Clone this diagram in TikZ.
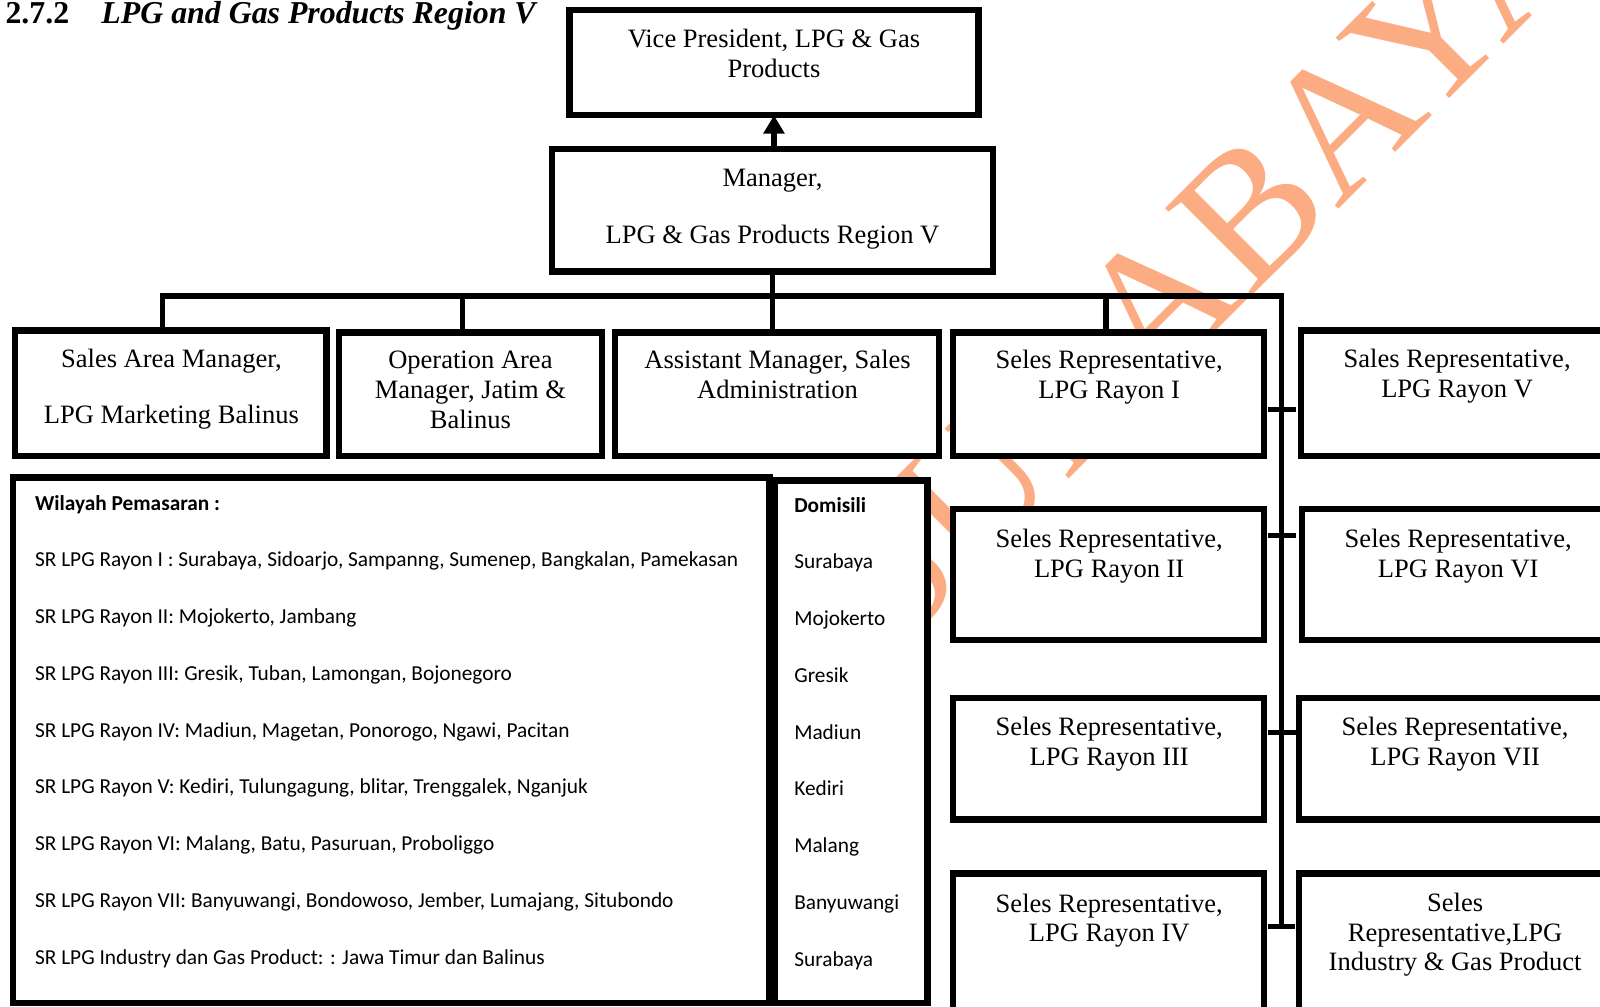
\documentclass[tikz,border=0pt]{standalone}
\usepackage{fontspec}
\setmainfont{Liberation Serif}
\newfontfamily\calibri{Carlito}
\usetikzlibrary{arrows.meta}
\definecolor{wm}{RGB}{252,172,130}
\tikzset{
  box/.style={draw=black, line width=3.1pt, fill=white, inner sep=0pt, outer sep=0pt, anchor=north west},
  conn/.style={draw=black, line width=2.6pt},
  lbl/.style={font=\fontsize{13}{14.6}\selectfont, align=center, inner sep=0pt, anchor=base},
  lst/.style={font=\calibri\fontsize{10.45}{12}\selectfont, inner sep=0pt, anchor=base west},
}
\begin{document}
\begin{tikzpicture}[x=0.5pt,y=-0.5pt]
\useasboundingbox (0,0) rectangle (1568,986);
\clip (0,0) rectangle (1568,986);

% watermark
\node[rotate=45, text=wm, font=\fontsize{92}{92}\selectfont, inner sep=0pt] (wmark) at (1179,253) {SURABAYA};

% title
\node[anchor=base west, inner sep=0pt, font=\fontsize{15.6}{18}\selectfont\bfseries] (num) at (5,23) {2.7.2};
\node[anchor=base west, inner sep=0pt, font=\fontsize{15.6}{18}\selectfont\bfseries\itshape] (ttl) at (99,23) {LPG and Gas Products Region V};

% boxes
\node[box, minimum width=200.5pt, minimum height=51.5pt] (vp) at (558,10) {};
\node[box, minimum width=216pt, minimum height=60pt] (mgr) at (541,146) {};
\node[box, minimum width=152.5pt, minimum height=61.5pt] (bA) at (15,324) {};
\node[box, minimum width=129pt, minimum height=60.5pt] (bB) at (332,326) {};
\node[box, minimum width=158.5pt, minimum height=60.5pt] (bC) at (603,326) {};
\node[box, minimum width=152.5pt, minimum height=60.5pt] (bD) at (934,326) {};
\node[box, minimum width=157.5pt, minimum height=61.5pt] (bE) at (1275,324) {};
\node[box, minimum width=152.5pt, minimum height=64pt] (r2) at (934,499) {};
\node[box, minimum width=157pt, minimum height=64pt] (r6) at (1276,499) {};
\node[box, minimum width=152.5pt, minimum height=59.5pt] (r3) at (934,684) {};
\node[box, minimum width=158.5pt, minimum height=59.5pt] (r7) at (1273,684) {};
\node[box, minimum width=152.5pt, minimum height=77pt] (r4) at (934,856) {};
\node[box, minimum width=158.5pt, minimum height=77pt] (ind) at (1273,856) {};
\node[box, minimum width=370.5pt, minimum height=257.5pt] (wil) at (13,468) {};
\node[box, minimum width=75pt, minimum height=256pt] (dom) at (759,471) {};

% connectors
\draw[conn, -{Triangle[width=10pt,length=9pt]}] (vp.south |- mgr.north) -- (vp.south);
\coordinate (busL) at (159,290);
\coordinate (busR) at (1256,290);
\coordinate (tEnd) at (1256,908);
\draw[conn] (mgr.south) -- (mgr.south |- bC.north);
\draw[conn] (bA.north -| busL) -- (busL) -- (busR) -- (tEnd);
\coordinate (dB) at ([xshift=-4pt]bB.north);
\coordinate (dD) at ([xshift=-1.25pt]bD.north);
\draw[conn] (dB) -- (dB |- busL);
\draw[conn] (dD) -- (dD |- busL);
\coordinate (t1) at (1256,401);
\coordinate (t2) at (1256,525);
\coordinate (t3) at (1256,718);
\draw[conn] ([xshift=-6.5pt]t1) -- ([xshift=7pt]t1);
\draw[conn] ([xshift=-6.5pt]t2) -- ([xshift=7pt]t2);
\draw[conn] ([xshift=-6.5pt]t3) -- ([xshift=7pt]t3);
\draw[conn] ([xshift=-6.5pt]tEnd) -- ([xshift=6.5pt]tEnd);

% box texts (anchored at the baseline of their last line)
\node[lbl] (vpt) at (758.5,76) {Vice President, LPG \& Gas\\Products};
\node[lbl] (mgrt) at (757,238.5) {Manager,\\[13.1pt]LPG \& Gas Products Region V};
\node[lbl] (At) at (168,415) {Sales Area Manager,\\[12.9pt]LPG Marketing Balinus};
\node[lbl] (Bt) at (461,419.5) {Operation Area\\Manager, Jatim \&\\Balinus};
\node[lbl] (Ct) at (762,390.5) {Assistant Manager, Sales\\Administration};
\node[lbl] (Dt) at (1087,390.5) {Seles Representative,\\LPG Rayon I};
\node[lbl] (Et) at (1428,389.5) {Sales Representative,\\LPG Rayon V};
\node[lbl] (r2t) at (1087,566) {Seles Representative,\\LPG Rayon II};
\node[lbl] (r6t) at (1429,566) {Seles Representative,\\LPG Rayon VI};
\node[lbl] (r3t) at (1087,750) {Seles Representative,\\LPG Rayon III};
\node[lbl] (r7t) at (1426,750) {Seles Representative,\\LPG Rayon VII};
\node[lbl] (r4t) at (1087,923) {Seles Representative,\\LPG Rayon IV};
\node[lbl] (indt) at (1426,951.5) {Seles\\Representative,LPG\\Industry \& Gas Product};

% list texts
\node[lst, font=\calibri\fontsize{10.45}{12}\selectfont\bfseries] (wh) at (34,500) {Wilayah Pemasaran :};
\foreach \t [count=\i] in {{SR LPG Rayon I : Surabaya, Sidoarjo, Sampanng, Sumenep, Bangkalan, Pamekasan},
  {SR LPG Rayon II: Mojokerto, Jambang},
  {SR LPG Rayon III: Gresik, Tuban, Lamongan, Bojonegoro},
  {SR LPG Rayon IV: Madiun, Magetan, Ponorogo, Ngawi, Pacitan},
  {SR LPG Rayon V: Kediri, Tulungagung, blitar, Trenggalek, Nganjuk},
  {SR LPG Rayon VI: Malang, Batu, Pasuruan, Proboliggo},
  {SR LPG Rayon VII: Banyuwangi, Bondowoso, Jember, Lumajang, Situbondo},
  {SR LPG Industry dan Gas Product: : Jawa Timur dan Balinus}}
  \node[lst] (w\i) at (34,{500+55.6*\i}) {\t};
\node[lst, font=\calibri\fontsize{10.45}{12}\selectfont\bfseries] (dh) at (778,502) {Domisili};
\foreach \t [count=\i] in {Surabaya, Mojokerto, Gresik, Madiun, Kediri, Malang, Banyuwangi, Surabaya}
  \node[lst] (d\i) at (778,{502+55.6*\i}) {\t};
\end{tikzpicture}
\end{document}
